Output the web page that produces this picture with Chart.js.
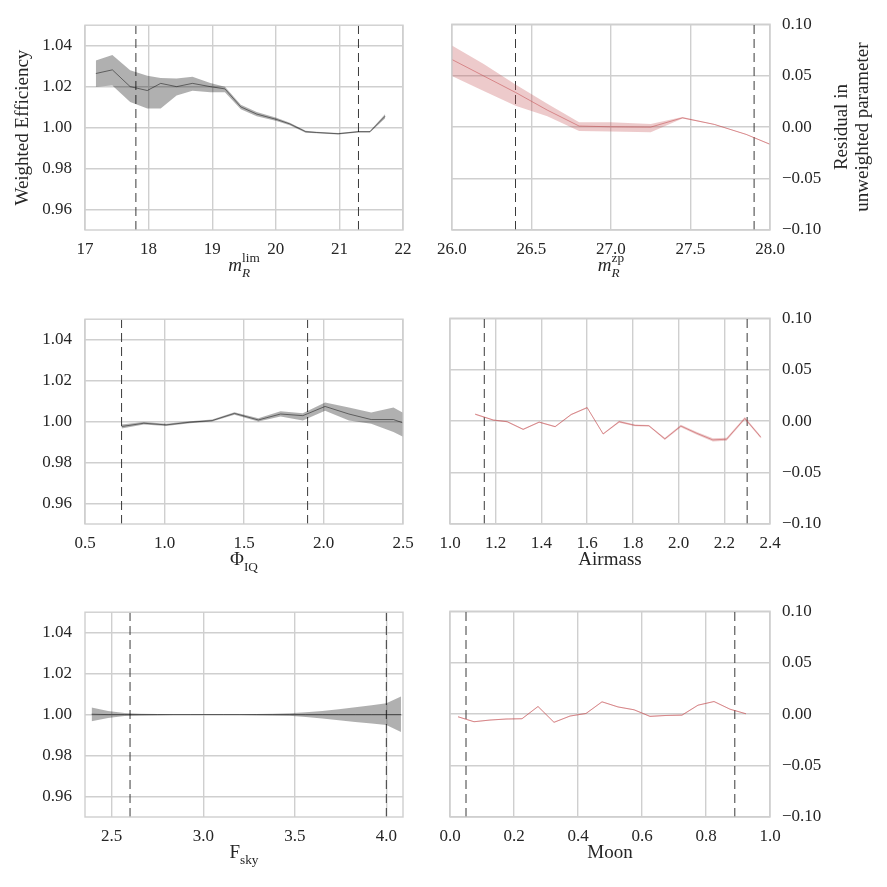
<!DOCTYPE html>
<html>
<head>
<meta charset="utf-8">
<script src="https://cdn.jsdelivr.net/npm/chart.js@4/dist/chart.umd.min.js"></script>
<style>
  body { margin: 0; background: #fff; }
  #wrap { position: relative; width: 887px; height: 887px; }
  canvas { position: absolute; }
</style>
</head>
<body>
<div id="wrap"></div>
<script>
// m_R^lim panel (weighted efficiency)
const mlimX   = [17.17, 17.43, 17.71, 17.98, 18.19, 18.44, 18.69, 18.97, 19.20, 19.45, 19.70, 20.01, 20.22, 20.47, 20.64, 20.98, 21.30, 21.48, 21.72];
const mlimEff = [1.0264, 1.0282, 1.0200, 1.0181, 1.0216, 1.0200, 1.0216, 1.0200, 1.0189, 1.0101, 1.0066, 1.0040, 1.0018, 0.9980, 0.9976, 0.9970, 0.9980, 0.9980, 1.0056];
const mlimHi  = [1.0328, 1.0354, 1.0280, 1.0253, 1.0242, 1.0240, 1.0248, 1.0218, 1.0200, 1.0112, 1.0076, 1.0048, 1.0024, 0.9985, 0.9980, 0.9974, 0.9984, 0.9984, 1.0066];
const mlimLo  = [1.0200, 1.0205, 1.0125, 1.0093, 1.0093, 1.0157, 1.0180, 1.0173, 1.0173, 1.0090, 1.0056, 1.0032, 1.0012, 0.9975, 0.9972, 0.9966, 0.9976, 0.9976, 1.0046];
const mlimCuts = [17.8, 21.3];

// m_R^zp panel (residual)
const mzpX   = [26.0, 26.2, 26.4, 26.6, 26.8, 27.0, 27.25, 27.45, 27.65, 27.85, 28.0];
const mzpRes = [0.0657, 0.0497, 0.0337, 0.0165, 0.0010, 0.0003, 0.0000, 0.0090, 0.0026, -0.0071, -0.0167];
const mzpHi  = [0.0794, 0.0614, 0.0415, 0.0228, 0.0048, 0.0048, 0.0030, 0.0097, 0.0030, -0.0067, -0.0163];
const mzpLo  = [0.0497, 0.0352, 0.0208, 0.0106, -0.0039, -0.0042, -0.0050, 0.0083, 0.0022, -0.0075, -0.0171];
const mzpCuts = [26.4, 27.9];

// Phi_IQ panel
const iqX   = [0.73, 0.87, 1.01, 1.16, 1.30, 1.44, 1.59, 1.73, 1.87, 2.01, 2.16, 2.30, 2.44, 2.58];
const iqEff = [0.9976, 0.9992, 0.9984, 0.9997, 1.0005, 1.0040, 1.0008, 1.0037, 1.0029, 1.0074, 1.0037, 1.0010, 1.0010, 0.9972];
const iqHi  = [0.9986, 0.9998, 0.9989, 1.0002, 1.0010, 1.0046, 1.0016, 1.0050, 1.0041, 1.0093, 1.0069, 1.0045, 1.0069, 1.0010];
const iqLo  = [0.9966, 0.9986, 0.9979, 0.9992, 1.0000, 1.0034, 1.0000, 1.0025, 1.0005, 1.0053, 1.0005, 0.9989, 0.9949, 0.9895];
const iqCuts = [0.73, 1.9];

// Airmass panel
const amX   = [1.11, 1.19, 1.25, 1.32, 1.39, 1.46, 1.53, 1.60, 1.67, 1.74, 1.81, 1.87, 1.94, 2.01, 2.08, 2.15, 2.21, 2.29, 2.36];
const amRes = [0.0067, 0.0010, -0.0006, -0.0080, -0.0010, -0.0054, 0.0064, 0.0131, -0.0125, -0.0006, -0.0042, -0.0045, -0.0173, -0.0048, -0.0119, -0.0183, -0.0176, 0.0026, -0.0157];
const amHi  = [0.0073, 0.0016, 0.0000, -0.0074, -0.0004, -0.0048, 0.0070, 0.0137, -0.0119, 0.0004, -0.0034, -0.0037, -0.0163, -0.0036, -0.0105, -0.0167, -0.0162, 0.0040, -0.0145];
const amLo  = [0.0061, 0.0004, -0.0012, -0.0086, -0.0016, -0.0060, 0.0058, 0.0125, -0.0131, -0.0016, -0.0050, -0.0053, -0.0183, -0.0060, -0.0133, -0.0199, -0.0190, 0.0012, -0.0169];
const amCuts = [1.15, 2.3];

// F_sky panel
const skyX   = [2.39, 2.48, 2.57, 2.66, 2.75, 2.84, 2.93, 3.02, 3.11, 3.20, 3.29, 3.38, 3.47, 3.56, 3.65, 3.74, 3.83, 3.92, 4.00, 4.08];
const skyEff = [1.0002, 1.0000, 1.0000, 1.0000, 1.0000, 1.0000, 1.0000, 1.0000, 1.0000, 1.0000, 1.0000, 1.0000, 1.0000, 1.0000, 1.0000, 1.0000, 1.0000, 1.0000, 1.0000, 1.0000];
const skyHi  = [1.0035, 1.0018, 1.0008, 1.0004, 1.0003, 1.0002, 1.0002, 1.0002, 1.0002, 1.0002, 1.0003, 1.0004, 1.0006, 1.0012, 1.0018, 1.0026, 1.0036, 1.0046, 1.0056, 1.0088];
const skyLo  = [0.9968, 0.9984, 0.9993, 0.9996, 0.9997, 0.9998, 0.9998, 0.9998, 0.9998, 0.9998, 0.9997, 0.9996, 0.9994, 0.9988, 0.9981, 0.9972, 0.9964, 0.9957, 0.9949, 0.9915];
const skyCuts = [2.6, 4.0];

// Moon panel
const moonX   = [0.025, 0.075, 0.125, 0.175, 0.225, 0.275, 0.325, 0.375, 0.425, 0.475, 0.525, 0.575, 0.625, 0.675, 0.725, 0.775, 0.825, 0.875, 0.925];
const moonRes = [-0.0026, -0.0074, -0.0058, -0.0048, -0.0045, 0.0074, -0.0080, -0.0019, 0.0006, 0.0119, 0.0070, 0.0042, -0.0022, -0.0013, -0.0010, 0.0087, 0.0122, 0.0048, 0.0003];
const moonHi  = [-0.0021, -0.0069, -0.0053, -0.0043, -0.0040, 0.0079, -0.0075, -0.0014, 0.0011, 0.0124, 0.0075, 0.0047, -0.0017, -0.0008, -0.0005, 0.0092, 0.0127, 0.0053, 0.0008];
const moonLo  = [-0.0031, -0.0079, -0.0063, -0.0053, -0.0050, 0.0069, -0.0085, -0.0024, 0.0001, 0.0114, 0.0065, 0.0037, -0.0027, -0.0018, -0.0015, 0.0082, 0.0117, 0.0043, -0.0002];
const moonCuts = [0.05, 0.89];

// tick labels
const effTicks = [0.96, 0.98, 1.00, 1.02, 1.04];
const resTicks = [-0.10, -0.05, 0.00, 0.05, 0.10];
const mlimTicks = [17, 18, 19, 20, 21, 22];
const mzpTicks = [26.0, 26.5, 27.0, 27.5, 28.0];
const iqTicks = [0.5, 1.0, 1.5, 2.0, 2.5];
const amTicks = [1.0, 1.2, 1.4, 1.6, 1.8, 2.0, 2.2, 2.4];
const skyTicks = [2.5, 3.0, 3.5, 4.0];
const moonTicks = [0.0, 0.2, 0.4, 0.6, 0.8, 1.0];

const SERIF = '"Liberation Serif", "DejaVu Serif", serif';
const TEXT = '#262626';
const GRID = '#cfcfcf';

const grayLine = 'rgba(0,0,0,0.6)';
const grayBand = 'rgba(0,0,0,0.31)';
const redLine = 'rgba(196,78,82,0.55)';
const redBand = 'rgba(196,78,82,0.30)';

// draws frame, x label (with sub/superscripts) and y titles
const panelText = {
  id: 'panelText',
  afterDraw(chart, args, opts) {
    const { ctx, chartArea: a } = chart;
    ctx.save();
    ctx.strokeStyle = GRID;
    ctx.lineWidth = 1.4;
    ctx.strokeRect(a.left, a.top, a.right - a.left, a.bottom - a.top);

    ctx.fillStyle = TEXT;
    ctx.textBaseline = 'alphabetic';
    ctx.textAlign = 'left';
    const size = 19;
    // lay out label pieces
    const items = [];
    let x = 0, scriptStart = null, scriptW = 0;
    for (const s of opts.xLabel) {
      const script = s.sub || s.sup;
      const fs = script ? size * 0.7 : size;
      const font = (s.it ? 'italic ' : '') + fs + 'px ' + SERIF;
      ctx.font = font;
      const w = ctx.measureText(s.t).width;
      if (script) {
        if (scriptStart === null) { scriptStart = x; scriptW = 0; }
        items.push({ t: s.t, font, x: scriptStart, dy: s.sup ? -size * 0.5 : size * 0.32 });
        scriptW = Math.max(scriptW, w);
        x = scriptStart + scriptW;
      } else {
        scriptStart = null;
        items.push({ t: s.t, font, x, dy: 0 });
        x += w;
      }
    }
    const x0 = (a.left + a.right) / 2 - x / 2;
    const base = a.bottom + 41;
    items.forEach(it => {
      ctx.font = it.font;
      ctx.fillText(it.t, x0 + it.x, base + it.dy);
    });

    if (opts.yTitle) {
      ctx.font = size + 'px ' + SERIF;
      ctx.textAlign = 'center';
      ctx.textBaseline = 'middle';
      const cy = (a.top + a.bottom) / 2;
      opts.yTitle.forEach((line, i) => {
        ctx.save();
        ctx.translate(opts.yTitleX(a) + i * 21, cy);
        ctx.rotate(-Math.PI / 2);
        ctx.fillText(line, 0, 0);
        ctx.restore();
      });
    }
    ctx.restore();
  }
};

function toPts(xs, ys) {
  return xs.map((x, i) => ({ x, y: ys[i] }));
}

function makePanel(p) {
  const canvas = document.createElement('canvas');
  const left = p.side === 'left' ? 0 : 428;
  const width = p.side === 'left' ? 425 : 459;
  canvas.width = width;
  canvas.height = 290;
  canvas.style.left = left + 'px';
  canvas.style.top = (p.top - 20) + 'px';
  document.getElementById('wrap').appendChild(canvas);

  const eff = p.side === 'left';
  const yMin = eff ? 0.95 : -0.10;
  const yMax = eff ? 1.05 : 0.10;
  const lineCol = eff ? grayLine : redLine;
  const bandCol = eff ? grayBand : redBand;

  const datasets = [
    { data: toPts(p.x, p.lo), borderWidth: 0, pointRadius: 0, fill: false },
    { data: toPts(p.x, p.hi), borderWidth: 0, pointRadius: 0, fill: '-1', backgroundColor: bandCol },
    { data: toPts(p.x, p.y), borderColor: lineCol, borderWidth: eff ? 0.8 : 1, pointRadius: 0, fill: false }
  ];
  p.cuts.forEach(c => {
    datasets.push({
      data: [{ x: c, y: yMin }, { x: c, y: yMax }],
      borderColor: '#3a3a3a', borderWidth: 1, borderDash: [9, 5],
      pointRadius: 0, fill: false
    });
  });

  const tickFont = { family: SERIF, size: 17 };

  new Chart(canvas.getContext('2d'), {
    type: 'line',
    data: { datasets },
    options: {
      responsive: false,
      animation: false,
      devicePixelRatio: 1,
      elements: { line: { tension: 0 } },
      layout: { padding: { top: 20, bottom: 0, left: eff ? 0 : 22, right: eff ? 22 : 0 } },
      plugins: {
        legend: { display: false },
        tooltip: { enabled: false },
        panelText: {
          xLabel: p.xLabel,
          yTitle: p.yTitle,
          yTitleX: eff ? (a => a.left - 62) : (a => a.right + 72)
        }
      },
      scales: {
        x: {
          type: 'linear',
          min: p.xMin,
          max: p.xMax,
          afterBuildTicks: s => { s.ticks = p.xTicks.map(v => ({ value: v })); },
          afterFit: s => { s.height = 62; },
          ticks: {
            font: tickFont, color: TEXT, padding: 9, maxRotation: 0, autoSkip: false,
            callback: v => v.toFixed(p.dec)
          },
          grid: { color: GRID, lineWidth: 1.4, drawTicks: false },
          border: { display: false }
        },
        y: {
          type: 'linear',
          position: eff ? 'left' : 'right',
          min: yMin,
          max: yMax,
          afterBuildTicks: s => { s.ticks = (eff ? effTicks : resTicks).map(v => ({ value: v })); },
          afterFit: s => { s.width = eff ? 85 : 117; },
          ticks: {
            font: tickFont, color: TEXT, padding: eff ? 13 : 12, autoSkip: false,
            callback: v => v.toFixed(2).replace('-', '\u2212')
          },
          grid: { color: GRID, lineWidth: 1.4, drawTicks: false },
          border: { display: false }
        }
      }
    },
    plugins: [panelText]
  });
}

makePanel({
  side: 'left', top: 22, x: mlimX, y: mlimEff, hi: mlimHi, lo: mlimLo, cuts: mlimCuts,
  xMin: 17, xMax: 22, xTicks: mlimTicks, dec: 0,
  xLabel: [{ t: 'm', it: true }, { t: 'lim', sup: true }, { t: 'R', sub: true, it: true }],
  yTitle: ['Weighted Efficiency']
});
makePanel({
  side: 'right', top: 22, x: mzpX, y: mzpRes, hi: mzpHi, lo: mzpLo, cuts: mzpCuts,
  xMin: 26, xMax: 28, xTicks: mzpTicks, dec: 1,
  xLabel: [{ t: 'm', it: true }, { t: 'zp', sup: true }, { t: 'R', sub: true, it: true }],
  yTitle: ['Residual in', 'unweighted parameter']
});
makePanel({
  side: 'left', top: 316, x: iqX, y: iqEff, hi: iqHi, lo: iqLo, cuts: iqCuts,
  xMin: 0.5, xMax: 2.5, xTicks: iqTicks, dec: 1,
  xLabel: [{ t: '\u03A6' }, { t: 'IQ', sub: true }]
});
makePanel({
  side: 'right', top: 316, x: amX, y: amRes, hi: amHi, lo: amLo, cuts: amCuts,
  xMin: 1.0, xMax: 2.4, xTicks: amTicks, dec: 1,
  xLabel: [{ t: 'Airmass' }]
});
makePanel({
  side: 'left', top: 609, x: skyX, y: skyEff, hi: skyHi, lo: skyLo, cuts: skyCuts,
  xMin: 2.354, xMax: 4.091, xTicks: skyTicks, dec: 1,
  xLabel: [{ t: 'F' }, { t: 'sky', sub: true }]
});
makePanel({
  side: 'right', top: 609, x: moonX, y: moonRes, hi: moonHi, lo: moonLo, cuts: moonCuts,
  xMin: 0, xMax: 1, xTicks: moonTicks, dec: 1,
  xLabel: [{ t: 'Moon' }]
});
</script>
</body>
</html>
